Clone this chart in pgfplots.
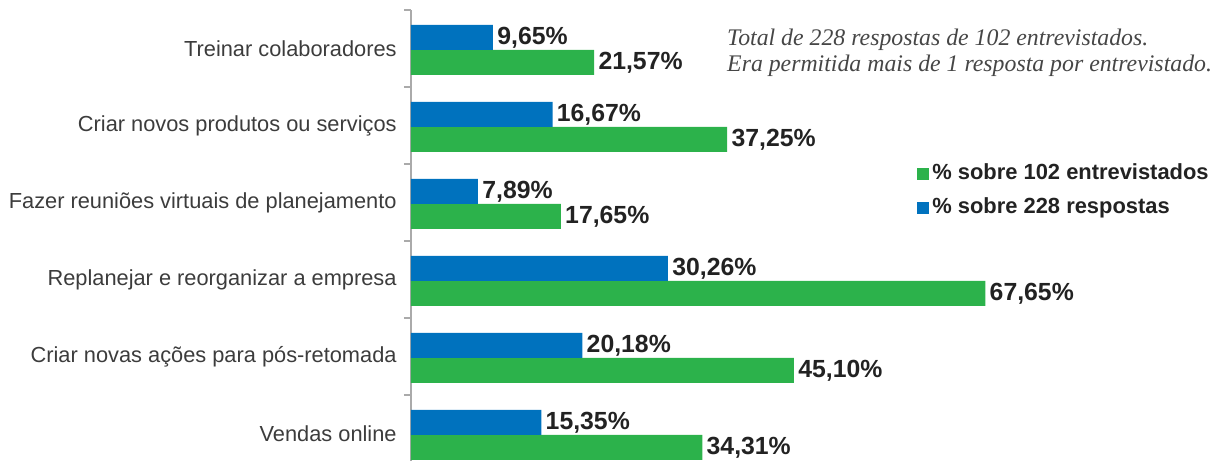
\documentclass[border=0pt]{standalone}
\usepackage{fontspec}
\setmainfont{Liberation Sans}
\newfontfamily\notefont{Liberation Serif}
\usepackage{pgfplots}
\pgfplotsset{compat=1.18}
\definecolor{barblue}{RGB}{0,114,190}
\definecolor{bargreen}{RGB}{44,178,75}
\definecolor{labgray}{RGB}{60,60,60}
\definecolor{valgray}{RGB}{34,34,34}
\definecolor{axgray}{RGB}{170,170,170}
\definecolor{notegray}{RGB}{70,70,70}
\begin{document}
\begin{tikzpicture}
\begin{axis}[
 scale only axis, width=402.5pt, height=225.5pt,
 xmin=0, xmax=94.82, ymin=-0.357, ymax=5.5,
 hide x axis,
 axis y line*=left,
 y axis line style={axgray, line width=0.8pt},
 xbar, bar width=12.5pt,
 ytick={0,...,5},
 yticklabels={Vendas online, Criar novas ações para pós-retomada, Replanejar e reorganizar a empresa, Fazer reuniões virtuais de planejamento, Criar novos produtos ou serviços, Treinar colaboradores},
 yticklabel style={font=\fontsize{10.9}{12}\selectfont, text=labgray, inner sep=0pt, xshift=-7pt},
 major tick length=0pt,
 minor ytick={0.5,1.5,2.5,3.5,4.5,5.5},
 minor tick length=3.5pt, tick align=outside,
 minor tick style={axgray, line width=0.8pt},
 clip=false,
 point meta=x,
 nodes near coords={\pgfmathprintnumber[assume math mode=true,fixed,fixed zerofill,precision=2,use comma]{\pgfplotspointmeta}\%},
 nodes near coords style={font=\bfseries\fontsize{12.4}{14}\selectfont, text=valgray, anchor=west, inner sep=2pt},
 legend style={at={(axis cs:59.6,3.546)}, anchor=north west, draw=none, fill=none, inner sep=0pt, row sep=4pt, nodes={inner sep=1.5pt, text height=8pt, text depth=2pt}, font=\bfseries\fontsize{10.95}{13}\selectfont, text=valgray},
 legend cell align=left,
 legend image code/.code={\fill[#1] (0pt,-3pt) rectangle (6pt,3pt);},
]
\addplot[fill=bargreen, draw=none, bar shift=-6.9pt] coordinates {(34.31,0) (45.10,1) (67.65,2) (17.65,3) (37.25,4) (21.57,5)};
\addplot[fill=barblue, draw=none, bar shift=5.6pt] coordinates {(15.35,0) (20.18,1) (30.26,2) (7.89,3) (16.67,4) (9.65,5)};
\legend{\% sobre 102 entrevistados, \% sobre 228 respostas}
\node[anchor=base west, font=\notefont\itshape\fontsize{11.9}{14}\selectfont, text=notegray, inner sep=0pt] at (axis cs:37.2,5.045) {Total de 228 respostas de 102 entrevistados.};
\node[anchor=base west, font=\notefont\itshape\fontsize{11.9}{14}\selectfont, text=notegray, inner sep=0pt] at (axis cs:37.2,4.695) {Era permitida mais de 1 resposta por entrevistado.};
\end{axis}
\pgfresetboundingbox
\path[use as bounding box] ([shift={(-205.5pt,0pt)}]current axis.south west) rectangle ([shift={(402.5pt,230.5pt)}]current axis.south west);
\end{tikzpicture}
\end{document}
